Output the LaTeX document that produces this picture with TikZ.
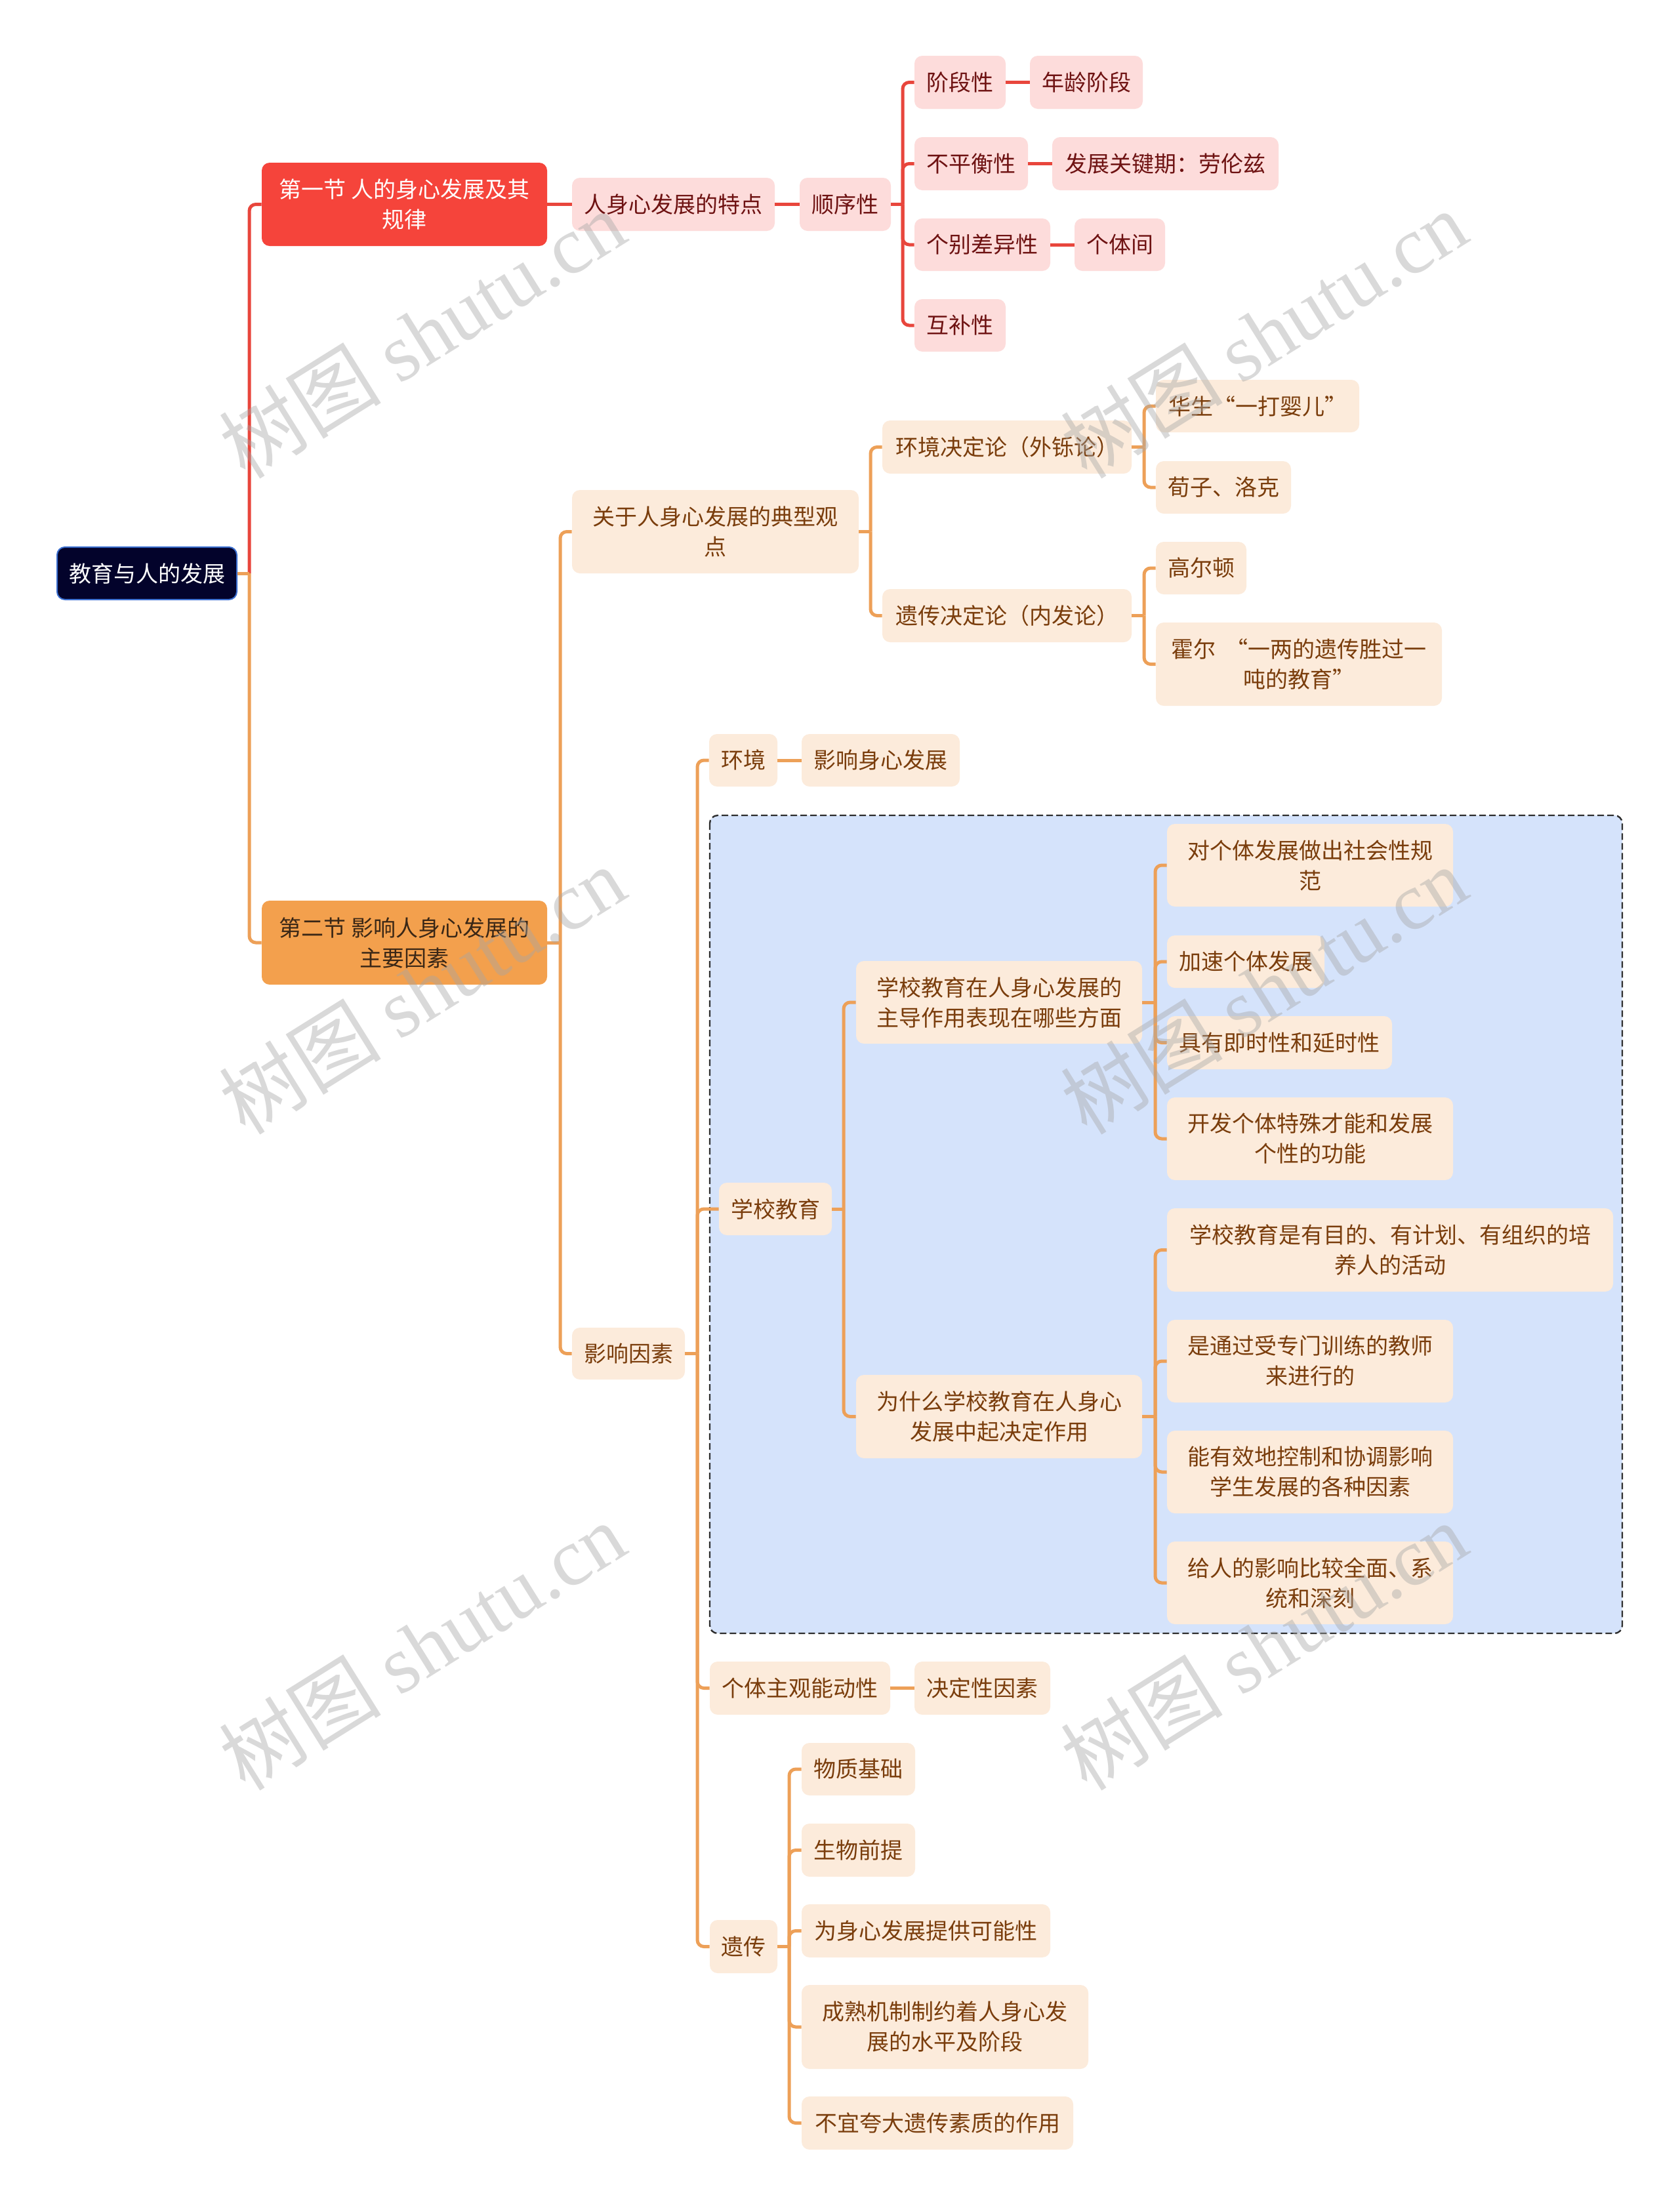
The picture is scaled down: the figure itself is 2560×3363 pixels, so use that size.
\documentclass[tikz,border=0pt]{standalone}
\usepackage{fontspec}
\setmainfont{Noto Sans CJK SC}
\newfontfamily\wmcjk{Noto Sans CJK SC}
\newfontfamily\wmserif{Liberation Serif}
\definecolor{rootfill}{HTML}{03032B}
\definecolor{rootedge}{HTML}{3B6FD0}
\definecolor{redmain}{HTML}{F5443B}
\definecolor{orangemain}{HTML}{F3A04D}
\definecolor{sectext}{HTML}{3A2716}
\definecolor{pinkfill}{HTML}{FDDCDB}
\definecolor{redtext}{HTML}{6E1212}
\definecolor{creamfill}{HTML}{FCEBDB}
\definecolor{browntext}{HTML}{7A3D0C}
\definecolor{rlinec}{HTML}{E8463C}
\definecolor{olinec}{HTML}{EDA058}
\definecolor{zonefill}{HTML}{D5E3FB}
\definecolor{zoneedge}{HTML}{2E2E2E}
\newcommand\mknode[7]{%
  \pgfmathsetmacro\mkw{(#5-#3)*0.5}%
  \pgfmathsetmacro\mkh{(#6-#4)*0.5}%
  \node[#2, minimum width=\mkw pt, minimum height=\mkh pt] (#1) at ({(#3+#5)/2},{(#4+#6)/2}) {#7};}
\newcommand\brn[4]{%
  \draw[#1] (#2.east) -- (#2.east -| #3);
  \draw[#1, rounded corners=5pt] (#2.east -| #3) |- (#4.west);}
\begin{document}
\begin{tikzpicture}[x=0.5pt,y=-0.5pt,
  base/.style={rounded corners=6pt, inner sep=0pt, align=center, font=\fontsize{17}{23}\selectfont},
  rootn/.style={base, fill=rootfill, draw=rootedge, line width=1pt, text=white},
  sec1n/.style={base, fill=redmain, text=white},
  sec2n/.style={base, fill=orangemain, text=sectext},
  redn/.style={base, fill=pinkfill, text=redtext},
  orn/.style={base, fill=creamfill, text=browntext},
  rl/.style={draw=rlinec, line width=2.5pt},
  ol/.style={draw=olinec, line width=2.5pt},
  wm/.style={text=gray!70, opacity=0.42, rotate=32, font=\fontsize{62}{62}\selectfont, inner sep=0pt}]
\useasboundingbox (0,0) rectangle (2560,3363);
\fill[white] (0,0) rectangle (2560,3363);

% dashed zone
\draw[fill=zonefill, draw=zoneedge, dash pattern=on 5pt off 2.5pt, line width=1.2pt, rounded corners=6pt] (1082,1243) rectangle (2473,2490);

% bus coordinates
\coordinate (b0) at (380,0);
\coordinate (b1) at (1376,0);
\coordinate (b2) at (854,0);
\coordinate (b3) at (1327,0);
\coordinate (b4) at (1744,0);
\coordinate (b5) at (1063,0);
\coordinate (b6) at (1286,0);
\coordinate (b7) at (1761,0);
\coordinate (b8) at (1203,0);

% nodes
\mknode{root}{rootn}{87}{834}{361}{914}{教育与人的发展}
\mknode{s1}{sec1n}{399}{248}{834}{375}{第一节 人的身心发展及其\\规律}
\mknode{s2}{sec2n}{399}{1373}{834}{1501}{第二节 影响人身心发展的\\主要因素}

\mknode{tedian}{redn}{872}{271}{1181}{352}{人身心发展的特点}
\mknode{shunxu}{redn}{1219}{271}{1358}{352}{顺序性}
\mknode{jieduan}{redn}{1394}{85}{1533}{166}{阶段性}
\mknode{nianling}{redn}{1570}{85}{1742}{166}{年龄阶段}
\mknode{buping}{redn}{1394}{209}{1567}{290}{不平衡性}
\mknode{guanjian}{redn}{1604}{209}{1949}{290}{发展关键期：劳伦兹}
\mknode{gebie}{redn}{1394}{333}{1601}{413}{个别差异性}
\mknode{getijian}{redn}{1638}{333}{1776}{413}{个体间}
\mknode{hubu}{redn}{1394}{456}{1533}{536}{互补性}

\mknode{guandian}{orn}{872}{747}{1309}{874}{关于人身心发展的典型观\\点}
\mknode{huanjue}{orn}{1345}{641}{1725}{722}{环境决定论（外铄论）}
\mknode{yijue}{orn}{1345}{898}{1725}{979}{遗传决定论（内发论）}
\mknode{huasheng}{orn}{1762}{579}{2072}{659}{华生“一打婴儿”}
\mknode{xunzi}{orn}{1762}{703}{1968}{783}{荀子、洛克}
\mknode{gaoerdun}{orn}{1762}{826}{1900}{906}{高尔顿}
\mknode{huoer}{orn}{1762}{949}{2198}{1076}{霍尔\ \ “一两的遗传胜过一\\吨的教育”}

\mknode{yingxiang}{orn}{872}{2024}{1044}{2103}{影响因素}
\mknode{huanjing}{orn}{1081}{1119}{1185}{1199}{环境}
\mknode{yxsx}{orn}{1222}{1119}{1463}{1199}{影响身心发展}
\mknode{xuexiao}{orn}{1096}{1803}{1268}{1883}{学校教育}
\mknode{zhudao}{orn}{1305}{1465}{1741}{1591}{学校教育在人身心发展的\\主导作用表现在哪些方面}
\mknode{weishenme}{orn}{1305}{2096}{1741}{2223}{为什么学校教育在人身心\\发展中起决定作用}
\mknode{zd1}{orn}{1779}{1256}{2215}{1382}{对个体发展做出社会性规\\范}
\mknode{zd2}{orn}{1779}{1426}{2019}{1506}{加速个体发展}
\mknode{zd3}{orn}{1779}{1549}{2122}{1630}{具有即时性和延时性}
\mknode{zd4}{orn}{1779}{1673}{2215}{1799}{开发个体特殊才能和发展\\个性的功能}
\mknode{ws1}{orn}{1779}{1842}{2459}{1969}{学校教育是有目的、有计划、有组织的培\\养人的活动}
\mknode{ws2}{orn}{1779}{2012}{2215}{2138}{是通过受专门训练的教师\\来进行的}
\mknode{ws3}{orn}{1779}{2181}{2215}{2307}{能有效地控制和协调影响\\学生发展的各种因素}
\mknode{ws4}{orn}{1779}{2350}{2215}{2476}{给人的影响比较全面、系\\统和深刻}
\mknode{zhuguan}{orn}{1082}{2533}{1357}{2614}{个体主观能动性}
\mknode{jueding}{orn}{1394}{2533}{1601}{2614}{决定性因素}
\mknode{yichuan}{orn}{1082}{2927}{1185}{3008}{遗传}
\mknode{yc1}{orn}{1222}{2657}{1395}{2737}{物质基础}
\mknode{yc2}{orn}{1222}{2780}{1395}{2861}{生物前提}
\mknode{yc3}{orn}{1222}{2903}{1601}{2984}{为身心发展提供可能性}
\mknode{yc4}{orn}{1222}{3026}{1659}{3154}{成熟机制制约着人身心发\\展的水平及阶段}
\mknode{yc5}{orn}{1222}{3196}{1636}{3277}{不宜夸大遗传素质的作用}

% connectors: root
\draw[rl, rounded corners=5pt] (root.east -| b0) |- (s1.west);
\draw[ol, rounded corners=5pt] (root.east -| b0) |- (s2.west);
\draw[ol] (root.east) -- (root.east -| b0);

% section 1
\draw[rl] (s1.east) -- (tedian.west);
\draw[rl] (tedian.east) -- (shunxu.west);
\brn{rl}{shunxu}{b1}{jieduan}
\brn{rl}{shunxu}{b1}{buping}
\brn{rl}{shunxu}{b1}{gebie}
\brn{rl}{shunxu}{b1}{hubu}
\draw[rl] (jieduan.east) -- (nianling.west);
\draw[rl] (buping.east) -- (guanjian.west);
\draw[rl] (gebie.east) -- (getijian.west);

% section 2
\brn{ol}{s2}{b2}{guandian}
\brn{ol}{s2}{b2}{yingxiang}
\brn{ol}{guandian}{b3}{huanjue}
\brn{ol}{guandian}{b3}{yijue}
\brn{ol}{huanjue}{b4}{huasheng}
\brn{ol}{huanjue}{b4}{xunzi}
\brn{ol}{yijue}{b4}{gaoerdun}
\brn{ol}{yijue}{b4}{huoer}

\brn{ol}{yingxiang}{b5}{huanjing}
\brn{ol}{yingxiang}{b5}{xuexiao}
\brn{ol}{yingxiang}{b5}{zhuguan}
\brn{ol}{yingxiang}{b5}{yichuan}
\draw[ol] (huanjing.east) -- (yxsx.west);
\draw[ol] (zhuguan.east) -- (jueding.west);

\brn{ol}{xuexiao}{b6}{zhudao}
\brn{ol}{xuexiao}{b6}{weishenme}
\brn{ol}{zhudao}{b7}{zd1}
\brn{ol}{zhudao}{b7}{zd2}
\brn{ol}{zhudao}{b7}{zd3}
\brn{ol}{zhudao}{b7}{zd4}
\brn{ol}{weishenme}{b7}{ws1}
\brn{ol}{weishenme}{b7}{ws2}
\brn{ol}{weishenme}{b7}{ws3}
\brn{ol}{weishenme}{b7}{ws4}

\brn{ol}{yichuan}{b8}{yc1}
\brn{ol}{yichuan}{b8}{yc2}
\brn{ol}{yichuan}{b8}{yc3}
\brn{ol}{yichuan}{b8}{yc4}
\brn{ol}{yichuan}{b8}{yc5}

% watermarks
\foreach \wy [count=\wi] in {509,1509,2509}{
  \node[wm] (wmL\wi) at (643,\wy) {{\wmcjk 树图} {\wmserif shutu.cn}};
  \node[wm] (wmR\wi) at (1926,\wy) {{\wmcjk 树图} {\wmserif shutu.cn}};
}
\end{tikzpicture}
\end{document}
